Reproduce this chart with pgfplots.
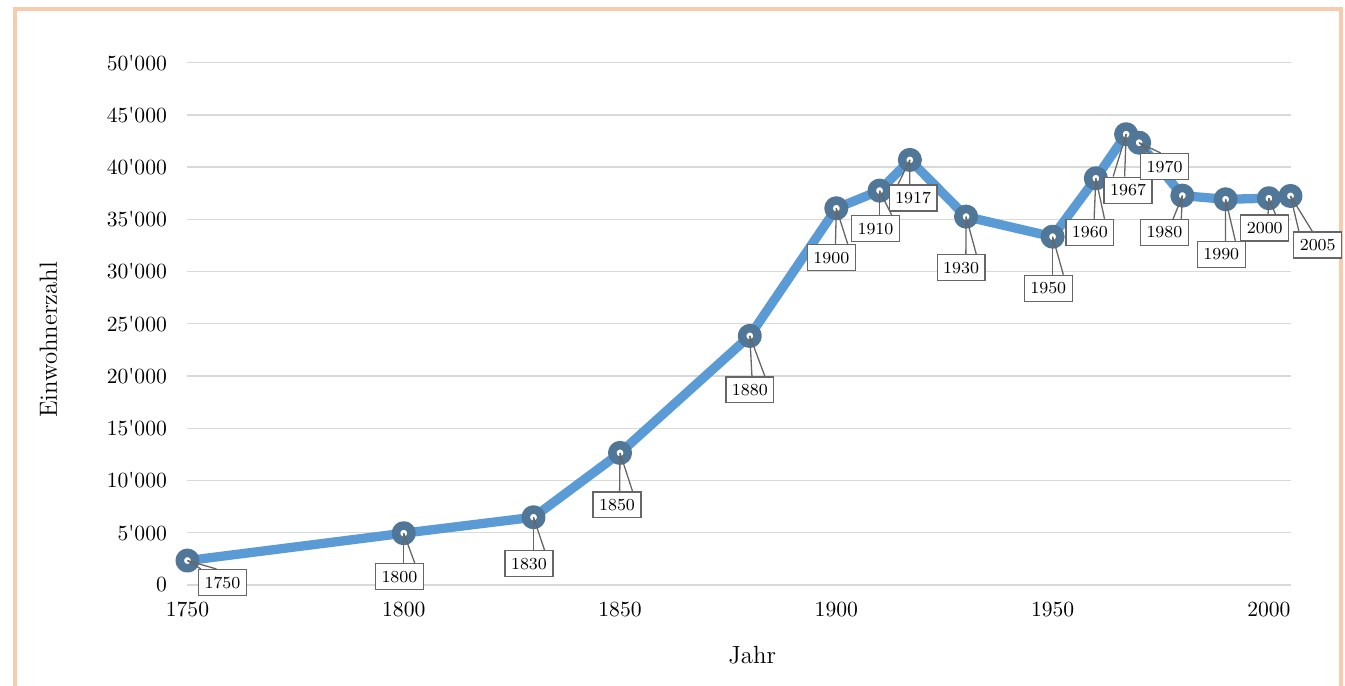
\documentclass[border=0pt]{standalone}
\usepackage{pgfplots}
\pgfplotsset{compat=1.18}
\usepackage{pgfplotstable}
\definecolor{linecol}{HTML}{5B9BD5}
\definecolor{markcol}{RGB}{80,118,152}
\definecolor{gridcol}{HTML}{D9D9D9}
\definecolor{framecol}{HTML}{F8CBAD}
\definecolor{calloutcol}{HTML}{666666}
\newcommand{\lblfont}{\fontsize{7.8}{9}\selectfont}

\pgfplotstableread{
year pop   ldx   ldy   pdx   pdy   bl    br
1750 2330  16.2 -10.2 -16.2  10.2 -10.0 -2.8
1800 4950  -2.0 -20.1   2.0  20.1   2.0  7.1
1830 6480  -2.1 -21.5   2.1  21.5   2.1  7.2
1850 12640 -1.4 -24.1   1.4  24.1   1.2  7.2
1880 23840  0.0 -25.0   0.0  25.0   1.0  7.0
1900 36060 -2.3 -22.9   2.3  22.9   1.9  7.6
1910 37750 -1.9 -17.6   1.9  17.6   1.9  7.5
1917 40690  1.5 -17.7  -1.5  17.7  -7.0 -1.6
1930 35260 -2.3 -23.6   2.3  23.6   2.2  7.0
1950 33340 -2.0 -23.9   2.0  23.9   2.0  7.0
1960 38930 -2.8 -25.0   2.8  25.0   2.0  6.8
1967 43150  0.9 -25.9  -0.9  25.9  -6.9 -1.6
1970 42340 11.8 -11.1 -11.8  11.1  -7.0 -1.8
1980 37270 -8.3 -17.1   8.3  17.1   4.0  7.8
1990 36920 -2.0 -25.5   2.0  25.5   1.9  6.5
2000 37020 -1.9 -13.8   1.9  13.8   1.5  5.0
2005 37240 12.6 -22.7 -12.6  22.7  -8.7 -2.5
}\popdata

\begin{document}
\begin{tikzpicture}[x=0.463pt,y=0.463pt]
\useasboundingbox (0,0) rectangle (1345,686);
\draw[framecol, line width=1.4pt] (15,0) -- (15,677) -- (1341,677) -- (1341,0);
\begin{axis}[
  at={(86.8pt,46.8pt)}, anchor=south west,
  scale only axis, width=510.7pt, height=241.8pt,
  xmin=1750, xmax=2005, ymin=0, ymax=50000,
  xtick={1750,1800,...,2000},
  ytick={0,5000,...,50000},
  scaled y ticks=false,
  ymajorgrids, grid style={gridcol, line width=0.6pt},
  axis line style={draw=none},
  major tick style={draw=none},
  /pgf/number format/assume math mode=true,
  yticklabel style={/pgf/number format/1000 sep={\textquotesingle}, xshift=-6pt},
  xticklabel style={/pgf/number format/1000 sep={}, yshift=-4.5pt},
  xlabel={Jahr}, ylabel={Einwohnerzahl},
  label style={font=\fontsize{11.5}{14}\selectfont},
  xlabel style={at={(axis description cs:0.512,-0.134)}, anchor=center},
  ylabel style={at={(axis description cs:-0.126,0.469)}, anchor=center},
  clip=false,
]
\addplot[linecol, line width=4.3pt, line join=round, mark=*, mark size=3.58pt,
  mark options={draw=markcol, fill=white, line width=3.95pt}]
  table[x=year, y=pop] {\popdata};
\addplot[draw=none, mark=none,
  point meta=explicit symbolic,
  visualization depends on={\thisrow{ldx}\as\lbldx},
  visualization depends on={\thisrow{ldy}\as\lbldy},
  visualization depends on={\thisrow{pdx}\as\ptrdx},
  visualization depends on={\thisrow{pdy}\as\ptrdy},
  visualization depends on={\thisrow{bl}\as\basel},
  visualization depends on={\thisrow{br}\as\baser},
  nodes near coords,
  every node near coord/.append style={anchor=center, xshift=\lbldx pt, yshift=\lbldy pt,
    draw=calloutcol, line width=0.6pt, fill=white,
    inner xsep=2.8pt, inner ysep=3.3pt, font=\lblfont, text=black,
    append after command={
      ([xshift=\ptrdx pt, yshift=\ptrdy pt]\tikzlastnode.center)
        edge[draw=calloutcol, line width=0.6pt] ([xshift=\basel pt]\tikzlastnode.north)
      ([xshift=\ptrdx pt, yshift=\ptrdy pt]\tikzlastnode.center)
        edge[draw=calloutcol, line width=0.6pt] ([xshift=\baser pt]\tikzlastnode.north)
    }}
] table[x=year, y=pop, meta=year] {\popdata};
\end{axis}
\end{tikzpicture}
\end{document}
